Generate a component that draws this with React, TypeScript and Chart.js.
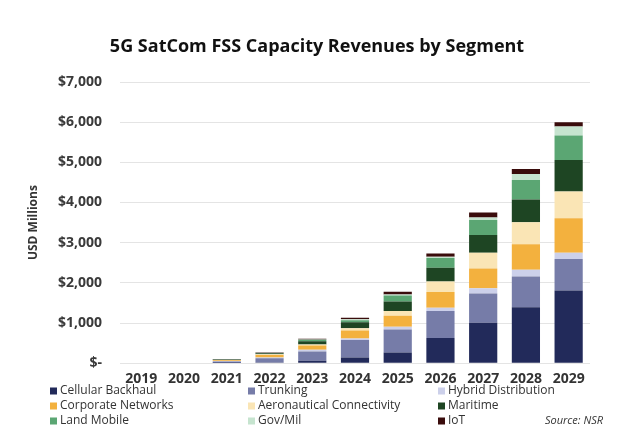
import React, { useEffect, useRef } from "react";
import { Chart, registerables } from "chart.js";

Chart.register(...registerables);

const years = ["2019", "2020", "2021", "2022", "2023", "2024", "2025", "2026", "2027", "2028", "2029"];

const cellularBackhaul = [0, 0, 5, 15, 58, 142, 267, 625, 1008, 1392, 1808];
const trunking = [0, 0, 40, 110, 233, 433, 575, 675, 725, 766, 784];
const hybridDistribution = [0, 0, 10, 20, 42, 42, 67, 83, 133, 167, 158];
const corporateNetworks = [0, 0, 20, 60, 108, 200, 275, 392, 492, 633, 858];
const aeronauticalConnectivity = [0, 0, 5, 15, 25, 50, 117, 258, 392, 550, 667];
const maritime = [0, 0, 10, 25, 83, 150, 233, 342, 442, 567, 783];
const landMobile = [0, 0, 5, 10, 33, 50, 150, 242, 375, 483, 608];
const govMil = [0, 0, 2, 5, 8, 25, 25, 33, 58, 150, 225];
const iot = [0, 0, 5, 10, 17, 42, 67, 83, 125, 125, 108];

const yTickLabels = ["$-", "$1,000", "$2,000", "$3,000", "$4,000", "$5,000", "$6,000", "$7,000"];

const seriesLabels = [
  "Cellular Backhaul",
  "Trunking",
  "Hybrid Distribution",
  "Corporate Networks",
  "Aeronautical Connectivity",
  "Maritime",
  "Land Mobile",
  "Gov/Mil",
  "IoT",
];
const seriesData = [
  cellularBackhaul,
  trunking,
  hybridDistribution,
  corporateNetworks,
  aeronauticalConnectivity,
  maritime,
  landMobile,
  govMil,
  iot,
];
const seriesColors = [
  "#222a5a",
  "#767ca8",
  "#ccd0ea",
  "#f3b13e",
  "#fae5b5",
  "#1e4523",
  "#5ba673",
  "#c6e4cf",
  "#3a0c0c",
];

const chartTitle = "5G SatCom FSS Capacity Revenues by Segment";
const FONT = "'Open Sans', 'DejaVu Sans', sans-serif";

export default function App() {
  const ref = useRef<HTMLCanvasElement | null>(null);

  useEffect(() => {
    document.body.style.margin = "0";
    const canvas = ref.current;
    if (!canvas) return;

    const decorPlugin = {
      id: "decor",
      afterDraw(chart: any) {
        const ctx = chart.ctx;
        ctx.save();
        ctx.font = `bold 18px ${FONT}`;
        ctx.fillStyle = "#111111";
        ctx.textAlign = "center";
        ctx.textBaseline = "middle";
        ctx.fillText(chartTitle, 317, 47);

        const colX = [50, 248, 438];
        const rowY = [391, 406, 421];
        ctx.font = `12px ${FONT}`;
        ctx.textAlign = "left";
        seriesLabels.forEach((label, i) => {
          const c = i % 3;
          const r = Math.floor(i / 3);
          const x = colX[c];
          const y = rowY[r];
          ctx.fillStyle = seriesColors[i];
          ctx.fillRect(x, y - 3.5, 7, 7);
          ctx.fillStyle = "#333333";
          ctx.fillText(label, x + 10, y);
        });
        ctx.font = `italic 11px ${FONT}`;
        ctx.textAlign = "right";
        ctx.fillStyle = "#333333";
        ctx.fillText("Source: NSR", 603, 421);
        ctx.restore();
      },
    };

    const chart = new Chart(canvas, {
      type: "bar",
      data: {
        labels: years,
        datasets: seriesLabels.map((label, i) => ({
          label,
          data: seriesData[i],
          backgroundColor: seriesColors[i],
          borderWidth: 0,
          barPercentage: 0.66,
          categoryPercentage: 1,
        })),
      },
      options: {
        animation: false,
        responsive: false,
        maintainAspectRatio: false,
        layout: { padding: { left: 0, right: 34, top: 82, bottom: 53 } },
        plugins: {
          legend: { display: false },
          tooltip: { enabled: false },
          title: { display: false },
        },
        scales: {
          x: {
            stacked: true,
            grid: { display: false, drawTicks: false },
            border: { display: false },
            ticks: {
              color: "#333333",
              font: { family: FONT, size: 14, weight: "bold" },
              padding: 7,
              maxRotation: 0,
            },
          },
          y: {
            stacked: true,
            min: 0,
            max: 7000,
            afterFit: (s: any) => {
              s.width = 120;
            },
            grid: { color: "#e4e4e4", lineWidth: 1, drawTicks: false },
            border: { display: false },
            title: {
              display: true,
              text: "USD Millions",
              color: "#333333",
              font: { family: FONT, size: 12, weight: "bold" },
              padding: { top: 26, bottom: 0 },
            },
            ticks: {
              stepSize: 1000,
              padding: 18,
              color: "#3a3a3a",
              font: { family: FONT, size: 14, weight: "bold" },
              callback: (_v: any, idx: number) => yTickLabels[idx],
            },
          },
        },
      },
      plugins: [decorPlugin],
    });

    return () => chart.destroy();
  }, []);

  return (
    <div style={{ position: "absolute", left: 0, top: 0, width: 624, height: 447, background: "#fff" }}>
      <canvas ref={ref} width={624} height={447} style={{ display: "block" }} />
    </div>
  );
}
